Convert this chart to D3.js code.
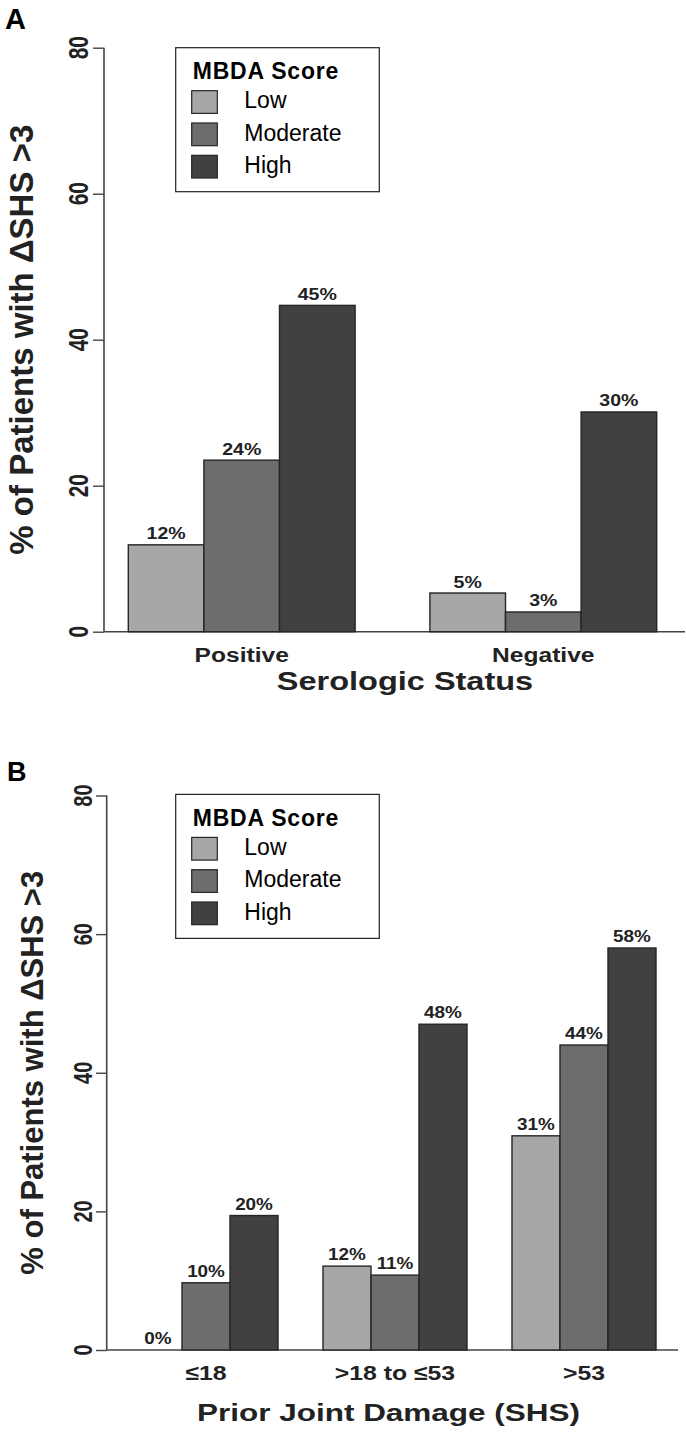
<!DOCTYPE html>
<html>
<head>
<meta charset="utf-8">
<script src="https://cdn.jsdelivr.net/npm/d3@7"></script>
<style>
  html, body { margin: 0; padding: 0; background: #fff; }
  svg { display: block; font-family: "Liberation Sans", Arial, Helvetica, sans-serif; }
</style>
</head>
<body>
<svg id="chart" width="686" height="1437"></svg>
<script>
// ---------- data ----------
const seriesNames = ["Low", "Moderate", "High"];
const seriesColors = ["#a7a7a7", "#6d6d6d", "#414141"];
const yTicks = [0, 20, 40, 60, 80];

// Panel A: Serologic Status
const groupsA = ["Positive", "Negative"];
const lowA = [11.9, 5.3];
const moderateA = [23.5, 2.7];
const highA = [44.7, 30.1];
const lowLabelsA = ["12%", "5%"];
const moderateLabelsA = ["24%", "3%"];
const highLabelsA = ["45%", "30%"];

// Panel B: Prior Joint Damage (SHS)
const groupsB = ["\u226418", ">18 to \u226453", ">53"];
const lowB = [0, 12.1, 30.9];
const moderateB = [9.7, 10.8, 44.0];
const highB = [19.4, 47.0, 58.0];
const lowLabelsB = ["0%", "12%", "31%"];
const moderateLabelsB = ["10%", "11%", "44%"];
const highLabelsB = ["20%", "48%", "58%"];

const yTitle = "% of Patients with \u0394SHS >3";
const legendTitle = "MBDA Score";

// ---------- drawing ----------
const svg = d3.select("#chart");
svg.append("rect").attr("width", 686).attr("height", 1437).attr("fill", "#fff");

function drawPanel(cfg) {
  const g = svg.append("g");
  const y = d3.scaleLinear().domain([0, 80]).range([cfg.y0, cfg.y80]);
  const x0 = d3.scaleBand().domain(cfg.groups).range([cfg.xLeft, cfg.xRight])
    .paddingInner(cfg.padInner).paddingOuter(0);
  const x1 = d3.scaleBand().domain(seriesNames).range([0, x0.bandwidth()]).padding(0);

  const rows = [];
  cfg.groups.forEach((grp, i) => {
    seriesNames.forEach((s, j) => {
      rows.push({ grp, s, j, v: cfg.values[j][i], label: cfg.labels[j][i] });
    });
  });

  // baseline
  g.append("line")
    .attr("x1", cfg.axisX).attr("x2", cfg.baseEnd)
    .attr("y1", y(0)).attr("y2", y(0))
    .attr("stroke", "#444").attr("stroke-width", 1.6);

  // bars
  g.selectAll("rect.bar").data(rows.filter(d => d.v > 0)).enter().append("rect")
    .attr("class", "bar")
    .attr("x", d => x0(d.grp) + x1(d.s))
    .attr("width", x1.bandwidth())
    .attr("y", d => y(d.v))
    .attr("height", d => y(0) - y(d.v))
    .attr("fill", d => seriesColors[d.j])
    .attr("stroke", "#252525").attr("stroke-width", 1.4);

  // value labels
  g.selectAll("text.val").data(rows).enter().append("text")
    .attr("class", "val")
    .attr("transform", d => `translate(${x0(d.grp) + x1(d.s) + x1.bandwidth() / 2},${y(d.v) - cfg.labelGap}) scale(${cfg.valStretch},1)`)
    .attr("text-anchor", "middle")
    .attr("font-size", cfg.valSize).attr("font-weight", "bold").attr("fill", "#222")
    .text(d => d.label);

  // y axis
  const yAxis = d3.axisLeft(y).tickValues(yTicks).tickSize(cfg.tickLen).tickFormat("");
  const ax = g.append("g").attr("transform", `translate(${cfg.axisX},0)`).call(yAxis);
  ax.select(".domain").attr("d", `M0,${y(80)}V${y(0)}`).attr("stroke", "#444").attr("stroke-width", 1.6);
  ax.selectAll(".tick line").attr("stroke", "#444").attr("stroke-width", 1.4);

  g.selectAll("text.ytick").data(yTicks).enter().append("text")
    .attr("class", "ytick")
    .attr("transform", d => `translate(${cfg.tickLabelX},${y(d)}) rotate(-90) scale(1,${cfg.tickStretch})`)
    .attr("text-anchor", "middle")
    .attr("font-size", cfg.tickSize).attr("font-weight", "bold").attr("fill", "#222")
    .text(d => d);

  // category labels
  g.selectAll("text.cat").data(cfg.groups).enter().append("text")
    .attr("class", "cat")
    .attr("transform", d => `translate(${x0(d) + x0.bandwidth() / 2},${cfg.catY}) scale(${cfg.catStretch},1)`)
    .attr("text-anchor", "middle")
    .attr("font-size", cfg.catSize).attr("font-weight", "bold").attr("fill", "#222")
    .text(d => d);

  // x title
  g.append("text")
    .attr("transform", `translate(${cfg.xTitleX},${cfg.xTitleY}) scale(${cfg.xTitleStretch},1)`)
    .attr("text-anchor", "middle")
    .attr("font-size", cfg.xTitleSize).attr("font-weight", "bold").attr("fill", "#222")
    .text(cfg.xTitle);

  // y title
  g.append("text")
    .attr("transform", `translate(${cfg.yTitleX},${(y(0) + y(80)) / 2}) rotate(-90)`)
    .attr("text-anchor", "middle")
    .attr("font-size", cfg.yTitleSize).attr("font-weight", "bold").attr("fill", "#222")
    .text(yTitle);

  // panel letter
  g.append("text")
    .attr("x", cfg.letterX).attr("y", cfg.letterY)
    .attr("font-size", cfg.letterSize).attr("font-weight", "bold").attr("fill", "#000")
    .text(cfg.letter);

  // legend
  const lg = g.append("g").attr("transform", `translate(175.7,${cfg.legendTop})`);
  lg.append("rect").attr("x", 0).attr("y", 0).attr("width", 203.6).attr("height", 144)
    .attr("fill", "#fff").attr("stroke", "#222").attr("stroke-width", 1.2);
  lg.append("text").attr("x", 17).attr("y", 31.5)
    .attr("font-size", 23).attr("font-weight", "bold").attr("letter-spacing", 0.8).attr("fill", "#000")
    .text(legendTitle);
  const items = lg.selectAll("g.item").data(seriesNames).enter().append("g")
    .attr("transform", (d, i) => `translate(0,${43 + i * 32.3})`);
  items.append("rect").attr("x", 16).attr("y", 0).attr("width", 25.6).attr("height", 22.7)
    .attr("fill", (d, i) => seriesColors[i]).attr("stroke", "#252525").attr("stroke-width", 1.2);
  items.append("text").attr("x", 68.6).attr("y", 17.6)
    .attr("font-size", 23).attr("fill", "#000")
    .text(d => d);
}

drawPanel({
  letter: "A", letterX: 5, letterY: 29.3, letterSize: 29,
  groups: groupsA,
  values: [lowA, moderateA, highA],
  labels: [lowLabelsA, moderateLabelsA, highLabelsA],
  y0: 631.7, y80: 47.7,
  xLeft: 128.3, xRight: 656.7, padInner: 0.248,
  axisX: 104, baseEnd: 685, tickLen: 11,
  tickLabelX: 88.3, tickSize: 21, tickStretch: 1.3,
  valSize: 17, valStretch: 1.15, labelGap: 5.5,
  catY: 661.7, catSize: 21, catStretch: 1.17,
  xTitle: "Serologic Status", xTitleX: 405, xTitleY: 689.5, xTitleSize: 25, xTitleStretch: 1.3,
  yTitleX: 33.3, yTitleSize: 33,
  legendTop: 47.7
});

drawPanel({
  letter: "B", letterX: 7, letterY: 780.7, letterSize: 27,
  groups: groupsB,
  values: [lowB, moderateB, highB],
  labels: [lowLabelsB, moderateLabelsB, highLabelsB],
  y0: 1350, y80: 795.5,
  xLeft: 134, xRight: 656, padInner: 0.238,
  axisX: 106.7, baseEnd: 678, tickLen: 10.7,
  tickLabelX: 91.7, tickSize: 20, tickStretch: 1.28,
  valSize: 16, valStretch: 1.18, labelGap: 6,
  catY: 1380, catSize: 21, catStretch: 1.18,
  xTitle: "Prior Joint Damage (SHS)", xTitleX: 388.5, xTitleY: 1421, xTitleSize: 23.5, xTitleStretch: 1.34,
  yTitleX: 43, yTitleSize: 31,
  legendTop: 794.4
});
</script>
</body>
</html>
